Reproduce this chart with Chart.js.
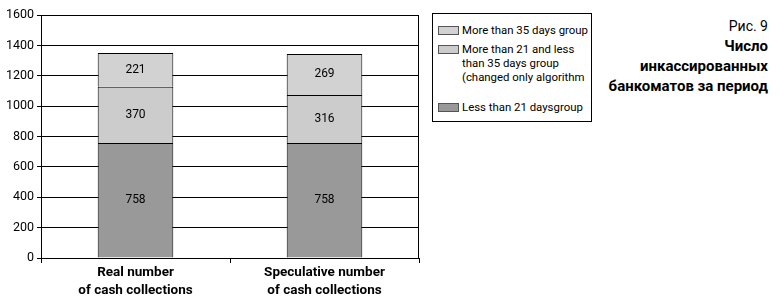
<!DOCTYPE html>
<html><head><meta charset="utf-8">
<script src="https://cdn.jsdelivr.net/npm/chart.js@4"></script>
<style>
html,body{margin:0;padding:0;background:#fff;}
#wrap{position:relative;width:780px;height:304px;font-family:Roboto,"DejaVu Sans",sans-serif;}
#cw{position:absolute;left:0;top:0;width:430px;height:304px;}
#legend{position:absolute;left:432px;top:13px;width:158px;height:107px;border:1px solid #000;font-size:11.4px;color:#000;}
.sw{position:absolute;left:5px;width:19px;height:7px;border:1px solid #555;}
.lt{position:absolute;left:29px;line-height:14px;white-space:nowrap;}
#title{position:absolute;right:12px;top:16px;text-align:right;color:#000;}
#title div{line-height:20px;font-size:15px;}
</style></head><body>
<div id="wrap">
<div id="cw"><canvas id="c"></canvas></div>
<div id="legend"></div>
<div id="title">
<div style="font-size:14px">Рис. 9</div>
<div style="font-weight:bold">Число</div>
<div style="font-weight:bold">инкассированных</div>
<div style="font-weight:bold">банкоматов за период</div>
</div>
</div>
<script>
const categories = [["Real number","of cash collections"],["Speculative number","of cash collections"]];
const less21 = [758, 758];
const between21and35 = [370, 316];
const more35 = [221, 269];
const seriesNames = ["Less than 21 daysgroup", "More than 21 and less\nthan 35 days group\n(changed only algorithm", "More than 35 days group"];
const seriesColors = ["#999999", "#cccccc", "#d2d2d2"];
const yTicks = [0,200,400,600,800,1000,1200,1400,1600];
const FONT = 'Roboto,"DejaVu Sans",sans-serif';

const legendItems = [
  {name: seriesNames[2], color: seriesColors[2], top: 9, sw: 12},
  {name: seriesNames[1], color: seriesColors[1], top: 28, sw: 31},
  {name: seriesNames[0], color: seriesColors[0], top: 86, sw: 89}
];
const lg = document.getElementById('legend');
legendItems.forEach(it=>{
  const s=document.createElement('div'); s.className='sw'; s.style.top=it.sw+'px'; s.style.background=it.color; lg.appendChild(s);
  const t=document.createElement('div'); t.className='lt'; t.style.top=it.top+'px'; t.innerHTML=it.name.split('\n').join('<br>'); lg.appendChild(t);
});

const frame = {
  id:'frame',
  afterDraw(chart){
    const a=chart.chartArea, ctx=chart.ctx;
    ctx.save(); ctx.strokeStyle='#000'; ctx.lineWidth=1;
    ctx.beginPath();
    ctx.moveTo(Math.round(a.left)+0.5, Math.round(a.top)+0.5);
    ctx.lineTo(Math.round(a.right)-0.5, Math.round(a.top)+0.5);
    ctx.lineTo(Math.round(a.right)-0.5, Math.round(a.bottom)+0.5);
    ctx.stroke(); ctx.restore();
  }
};
const labels = {
  id:'vals',
  afterDatasetsDraw(chart){
    const ctx=chart.ctx; ctx.save();
    ctx.font='12px '+FONT;
    ctx.fillStyle='#000'; ctx.textAlign='center'; ctx.textBaseline='middle';
    chart.data.datasets.forEach((ds,i)=>{
      chart.getDatasetMeta(i).data.forEach((el,j)=>{
        const p=el.getProps(['x','y','base'],true);
        ctx.fillText(String(ds.data[j]), p.x, (p.y+p.base)/2);
      });
    });
    ctx.restore();
  }
};

new Chart(document.getElementById('c'), {
  type:'bar',
  data:{
    labels: categories,
    datasets:[
      {label:seriesNames[0], data:less21, backgroundColor:seriesColors[0]},
      {label:seriesNames[1], data:between21and35, backgroundColor:seriesColors[1]},
      {label:seriesNames[2], data:more35, backgroundColor:seriesColors[2]}
    ].map(d=>Object.assign(d,{borderColor:'#000',borderWidth:1,borderSkipped:'bottom',categoryPercentage:1,barPercentage:0.4}))
  },
  options:{
    responsive:true, maintainAspectRatio:false, animation:false,
    layout:{padding:{top:15,right:11,left:0,bottom:0}},
    plugins:{legend:{display:false},tooltip:{enabled:false}},
    scales:{
      x:{stacked:true,
        grid:{offset:true,drawOnChartArea:false,color:'#000',tickLength:5},
        border:{color:'#000'},
        ticks:{color:'#000',font:{family:FONT,size:13.5,weight:'bold',lineHeight:1.3},padding:1},
        afterFit(s){s.height=46;}
      },
      y:{stacked:true,min:0,max:1600,
        afterBuildTicks(s){s.ticks=yTicks.map(v=>({value:v}));},
        grid:{color:'#000',tickLength:4},
        border:{color:'#000'},
        ticks:{color:'#000',font:{family:FONT,size:12.5},padding:3,callback:(v)=>String(v)},
        afterFit(s){s.width=41;}
      }
    }
  },
  plugins:[frame,labels]
});
</script>
</body></html>
